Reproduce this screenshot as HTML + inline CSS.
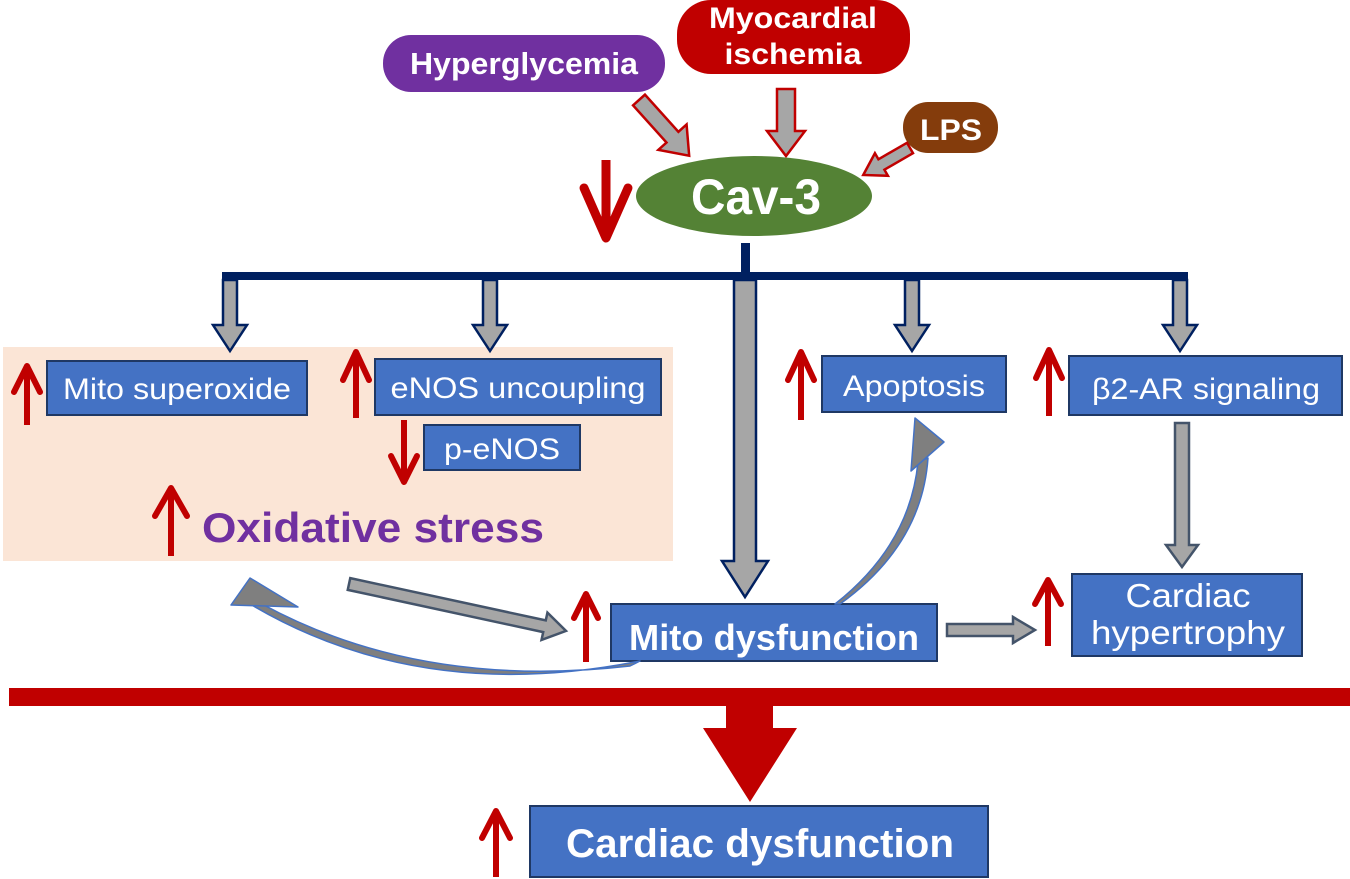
<!DOCTYPE html>
<html><head><meta charset="utf-8"><style>
html,body{margin:0;padding:0;background:#fff;}
svg{display:block;font-family:"Liberation Sans",Arial,sans-serif;}
</style></head><body>
<svg width="1350" height="879" viewBox="0 0 1350 879" xmlns="http://www.w3.org/2000/svg">
<rect x="3" y="347" width="670" height="214" fill="#fbe5d6"/>

<rect x="383" y="35" width="282" height="57" rx="28" fill="#7030a0"/>
<text x="524" y="74" font-size="31" font-weight="bold" fill="#fff" text-anchor="middle" textLength="228" lengthAdjust="spacingAndGlyphs">Hyperglycemia</text>
<rect x="677" y="0" width="233" height="74" rx="34" fill="#c00000"/>
<text x="793" y="28" font-size="30" font-weight="bold" fill="#fff" text-anchor="middle" textLength="168" lengthAdjust="spacingAndGlyphs">Myocardial</text>
<text x="793" y="64" font-size="30" font-weight="bold" fill="#fff" text-anchor="middle" textLength="137" lengthAdjust="spacingAndGlyphs">ischemia</text>
<rect x="903" y="102" width="95" height="51" rx="25" fill="#843c0c"/>
<text x="951" y="140" font-size="30" font-weight="bold" fill="#fff" text-anchor="middle" textLength="62" lengthAdjust="spacingAndGlyphs">LPS</text>

<g fill="#a6a6a6" stroke="#c00000" stroke-width="2.5" stroke-linejoin="miter">
  <polygon transform="translate(639,100) rotate(48)" points="0,-8 50,-8 50,-19 75,0 50,19 50,8 0,8"/>
  <polygon transform="translate(786,89) rotate(90)" points="0,-9 42,-9 42,-19 67,0 42,19 42,9 0,9"/>
  <polygon transform="translate(910,148) rotate(150)" points="0,-6 33,-6 33,-13 54,0 33,13 33,6 0,6"/>
</g>

<ellipse cx="754" cy="196" rx="118" ry="40" fill="#548235"/>
<text x="756" y="214" font-size="50" font-weight="bold" fill="#fff" text-anchor="middle" textLength="130" lengthAdjust="spacingAndGlyphs">Cav-3</text>

<g stroke="#c00000" stroke-width="9" fill="none" stroke-linejoin="round" stroke-linecap="round">
  <line x1="606" y1="160" x2="606" y2="236" stroke-linecap="butt"/>
  <polyline points="584,188 606,238 628,188"/>
</g>

<rect x="741" y="243" width="9" height="34" fill="#002060"/>
<rect x="222" y="272" width="966" height="8" fill="#002060"/>

<g fill="#a6a6a6" stroke="#002060" stroke-width="2.5">
  <polygon points="223,280 237,280 237,325 247,325 230,351 213,325 223,325"/>
  <polygon points="483,280 497,280 497,325 507,325 490,351 473,325 483,325"/>
  <polygon points="905,280 919,280 919,325 929,325 912,351 895,325 905,325"/>
  <polygon points="1173,280 1187,280 1187,325 1197,325 1180,351 1163,325 1173,325"/>
  <polygon points="734,280 756,280 756,561 768,561 745,597 722,561 734,561"/>
</g>

<g fill="#4472c4" stroke="#1f3864" stroke-width="2">
  <rect x="47" y="361" width="260" height="54"/>
  <rect x="375" y="359" width="286" height="56"/>
  <rect x="424" y="425" width="156" height="45"/>
  <rect x="822" y="356" width="184" height="56"/>
  <rect x="1069" y="356" width="273" height="59"/>
  <rect x="611" y="604" width="326" height="57"/>
  <rect x="1072" y="574" width="230" height="82"/>
  <rect x="530" y="806" width="458" height="71"/>
</g>
<g fill="#fff" font-size="30" text-anchor="middle">
  <text x="177" y="399" textLength="228" lengthAdjust="spacingAndGlyphs">Mito superoxide</text>
  <text x="518" y="398" textLength="255" lengthAdjust="spacingAndGlyphs">eNOS uncoupling</text>
  <text x="502" y="459" textLength="116" lengthAdjust="spacingAndGlyphs">p-eNOS</text>
  <text x="914" y="396" textLength="142" lengthAdjust="spacingAndGlyphs">Apoptosis</text>
  <text x="1206" y="399" textLength="228" lengthAdjust="spacingAndGlyphs">β2-AR signaling</text>
  <text x="1188" y="607" font-size="33" textLength="125" lengthAdjust="spacingAndGlyphs">Cardiac</text>
  <text x="1188" y="644" font-size="33" textLength="194" lengthAdjust="spacingAndGlyphs">hypertrophy</text>
  <text x="774" y="650" font-size="36" font-weight="bold" textLength="290" lengthAdjust="spacingAndGlyphs">Mito dysfunction</text>
  <text x="760" y="857" font-size="40" font-weight="bold" textLength="388" lengthAdjust="spacingAndGlyphs">Cardiac dysfunction</text>
</g>

<text x="202" y="542" font-size="42" font-weight="bold" fill="#7030a0" textLength="342" lengthAdjust="spacingAndGlyphs">Oxidative stress</text>

<g stroke="#c00000" stroke-width="6" fill="none" stroke-linecap="round" stroke-linejoin="round">
  <line x1="27" y1="368" x2="27" y2="425" stroke-linecap="butt"/><polyline points="14,392 27,366 40,392"/>
  <line x1="356" y1="354" x2="356" y2="418" stroke-linecap="butt"/><polyline points="343,380 356,352 369,380"/>
  <line x1="801" y1="354" x2="801" y2="420" stroke-linecap="butt"/><polyline points="788,380 801,352 814,380"/>
  <line x1="1049" y1="352" x2="1049" y2="416" stroke-linecap="butt"/><polyline points="1036,378 1049,350 1062,378"/>
  <line x1="171" y1="490" x2="171" y2="556" stroke-linecap="butt"/><polyline points="155,516 171,488 187,516"/>
  <line x1="586" y1="594" x2="586" y2="662" stroke-linecap="butt"/><polyline points="574,618 586,594 598,618"/>
  <line x1="1048" y1="580" x2="1048" y2="646" stroke-linecap="butt"/><polyline points="1035,604 1048,580 1061,604"/>
  <line x1="496" y1="812" x2="496" y2="877" stroke-linecap="butt"/><polyline points="482,838 496,811 510,838"/>
  <line x1="404" y1="420" x2="404" y2="480" stroke-linecap="butt"/><polyline points="391,456 404,482 417,456"/>
</g>

<g fill="#a6a6a6" stroke="#44546a" stroke-width="2.5">
  <polygon transform="translate(349,584) rotate(12.2)" points="0,-6 200,-6 200,-14 222,0 200,14 200,6 0,6"/>
  <polygon points="947,624 1013,624 1013,617 1035,630 1013,643 1013,636 947,636"/>
  <polygon points="1175,423 1189,423 1189,545 1198,545 1182,567 1166,545 1175,545"/>
</g>

<g fill="#7f7f7f" stroke="#4472c4" stroke-width="1.5" stroke-linejoin="round">
  <path d="M640,661 Q420,705 250,604 L262,604 Q420,690 630,666 Z"/>
  <polygon points="250,578 231,605 298,607"/>
  <path d="M835,604 Q910,545 918,462 L928,458 Q922,545 840,604 Z"/>
  <polygon points="915,418 911,471 944,442"/>
</g>

<rect x="9" y="688" width="1341" height="18" fill="#c00000"/>
<polygon points="726,705 773,705 773,728 797,728 750,802 703,728 726,728" fill="#c00000"/>
</svg>
</body></html>
